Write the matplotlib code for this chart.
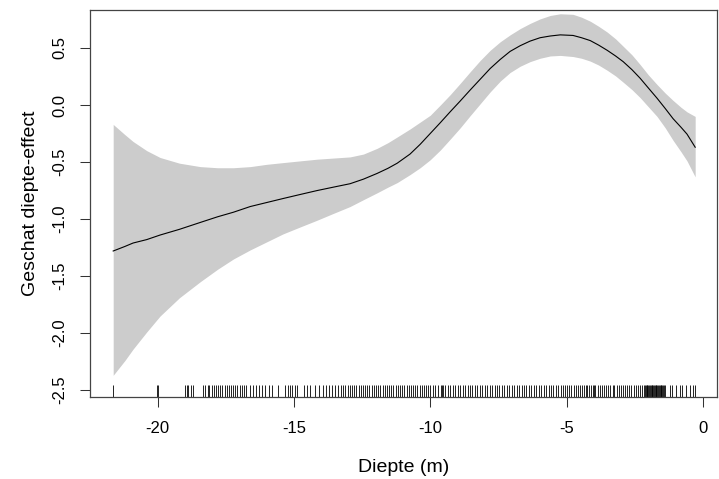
import matplotlib
matplotlib.use("Agg")
import matplotlib.pyplot as plt
import matplotlib.transforms as mtransforms

# Estimated smooth (GAM-style) of depth effect with confidence band
depth = [-21.63, -21.2, -20.90, -20.4, -19.91, -19.2, -18.44, -17.8, -17.22, -16.60,
         -16.0, -15.40, -14.78, -14.15, -13.55, -12.94, -12.45, -11.95, -11.55, -11.21,
         -10.74, -10.37, -10.00, -9.63, -9.27, -8.90, -8.54, -8.17, -7.80, -7.43,
         -7.07, -6.70, -6.34, -5.97, -5.60, -5.23, -4.76, -4.45, -4.13, -3.82,
         -3.51, -3.20, -2.92, -2.60, -2.30, -2.00, -1.68, -1.38, -1.09, -0.80,
         -0.58, -0.28]
fit = [-1.28, -1.24, -1.21, -1.18, -1.14, -1.09, -1.03, -0.98, -0.94, -0.89,
       -0.855, -0.82, -0.785, -0.75, -0.72, -0.69, -0.65, -0.60, -0.555, -0.51,
       -0.43, -0.345, -0.25, -0.155, -0.06, 0.035, 0.13, 0.225, 0.32, 0.40,
       0.47, 0.52, 0.56, 0.59, 0.605, 0.615, 0.61, 0.59, 0.565, 0.525,
       0.48, 0.43, 0.38, 0.31, 0.235, 0.15, 0.06, -0.03, -0.12, -0.195,
       -0.255, -0.37]
lower = [-2.37, -2.24, -2.14, -1.99, -1.85, -1.69, -1.55, -1.44, -1.35, -1.27,
         -1.20, -1.13, -1.07, -1.01, -0.95, -0.89, -0.83, -0.77, -0.72, -0.68,
         -0.61, -0.55, -0.48, -0.395, -0.30, -0.20, -0.095, 0.01, 0.115, 0.21,
         0.285, 0.34, 0.38, 0.41, 0.43, 0.435, 0.425, 0.41, 0.385, 0.35,
         0.305, 0.255, 0.20, 0.135, 0.065, -0.015, -0.10, -0.20, -0.31, -0.41,
         -0.49, -0.63]
upper = [-0.17, -0.26, -0.32, -0.40, -0.46, -0.51, -0.54, -0.55, -0.55, -0.54,
         -0.52, -0.505, -0.49, -0.475, -0.465, -0.455, -0.43, -0.38, -0.33, -0.28,
         -0.21, -0.15, -0.09, 0.0, 0.09, 0.19, 0.29, 0.39, 0.48, 0.555,
         0.615, 0.67, 0.715, 0.755, 0.785, 0.80, 0.795, 0.77, 0.735, 0.69,
         0.64, 0.58, 0.515, 0.44, 0.355, 0.265, 0.18, 0.105, 0.04, -0.02,
         -0.06, -0.10]

# Observed depths (rug)
rug = [-21.63, -20.03, -19.97,
       -19.01, -18.94, -18.87, -18.79, -18.71,
       -18.33, -18.25, -18.17, -18.10, -18.02, -17.94, -17.86, -17.78, -17.70,
       -17.62, -17.54, -17.47, -17.39, -17.31, -17.23, -17.15, -17.07, -16.99,
       -16.91, -16.83, -16.75,
       -16.61, -16.50, -16.39, -16.28, -16.17, -16.06,
       -15.91, -15.79, -15.59, -15.32, -15.22,
       -15.15, -15.07, -14.97, -14.87, -14.63, -14.52, -14.41, -14.21, -14.09,
       -13.93, -13.83, -13.73, -13.62, -13.50, -13.38,
       -13.27, -13.19, -13.11, -13.03, -12.95, -12.87, -12.79, -12.71, -12.63,
       -12.55, -12.47, -12.39, -12.31, -12.23, -12.15, -12.07, -11.99, -11.91,
       -11.83, -11.75, -11.67, -11.59, -11.51, -11.43, -11.35, -11.27, -11.19,
       -11.11, -11.03, -10.95, -10.87, -10.79, -10.71, -10.63, -10.55, -10.47,
       -10.39, -10.31, -10.23, -10.15, -10.07,
       -9.99, -9.90, -9.81, -9.72, -9.62, -9.55, -9.52, -9.44, -9.35, -9.26,
       -9.17, -9.08, -8.99, -8.90, -8.81, -8.72, -8.63, -8.54, -8.45, -8.36,
       -8.27, -8.18, -8.09, -8.00, -7.91, -7.82, -7.73, -7.64, -7.55, -7.46,
       -7.37, -7.28, -7.19, -7.10, -7.01, -6.92, -6.83, -6.74, -6.65, -6.56,
       -6.47, -6.38, -6.29, -6.20, -6.11, -6.02, -5.93, -5.84, -5.75, -5.66,
       -5.57, -5.48, -5.39, -5.30, -5.21, -5.12,
       -5.05, -4.97, -4.90, -4.82, -4.74, -4.66, -4.59, -4.51, -4.43, -4.36,
       -4.30, -4.25, -4.18, -4.10, -4.02, -3.98, -3.94, -3.86, -3.78, -3.70,
       -3.62, -3.55, -3.47, -3.39, -3.31, -3.24, -3.16, -3.08, -3.00, -2.93,
       -2.85, -2.77, -2.70, -2.62, -2.54, -2.46, -2.38, -2.31, -2.23, -2.15,
       -2.12, -2.09, -2.06, -2.03, -2.00, -1.97, -1.94, -1.91, -1.88, -1.85,
       -1.82, -1.79, -1.76, -1.73, -1.70, -1.67, -1.64, -1.61, -1.58, -1.55,
       -1.52, -1.49, -1.46, -1.43, -1.40,
       -1.20, -1.12, -0.99, -0.82, -0.78, -0.62, -0.47, -0.36, -0.30]

xticks = [-20, -15, -10, -5, 0]
yticks = [-2.5, -2.0, -1.5, -1.0, -0.5, 0.0, 0.5]
xlabel = "Diepte (m)"
ylabel = "Geschat diepte-effect"

plt.rcParams['font.family'] = ['Liberation Sans', 'DejaVu Sans']

fig = plt.figure(figsize=(7.19, 4.79), dpi=100)
ax = fig.add_axes([0.1252, 0.1712, 0.8720, 0.8079])

ax.fill_between(depth, lower, upper, color='#CCCCCC', linewidth=0)
ax.plot(depth, fit, color='black', linewidth=0.8)

trans = mtransforms.blended_transform_factory(ax.transData, ax.transAxes)
ax.vlines(rug, 0, 0.03, transform=trans, color='black', linewidth=0.6)

ax.set_xlim(-22.48, 0.52)
ax.set_ylim(-2.56, 0.833)

ax.set_xticks(xticks)
ax.set_xticklabels([str(t) for t in xticks])
ax.set_yticks(yticks)
ax.set_yticklabels([f"{t:.1f}" for t in yticks], rotation=90, va='center')

ax.tick_params(axis='both', direction='out', length=7.2, width=0.75,
               color='#333333', labelsize=12)
ax.tick_params(axis='x', pad=10)
ax.tick_params(axis='y', pad=9)

for s in ax.spines.values():
    s.set_color('#444444')
    s.set_linewidth(0.9)

ax.set_xlabel(xlabel, fontsize=14, labelpad=17)
ax.set_ylabel(ylabel, fontsize=14, labelpad=10)

fig.savefig("out.png", dpi=100)
